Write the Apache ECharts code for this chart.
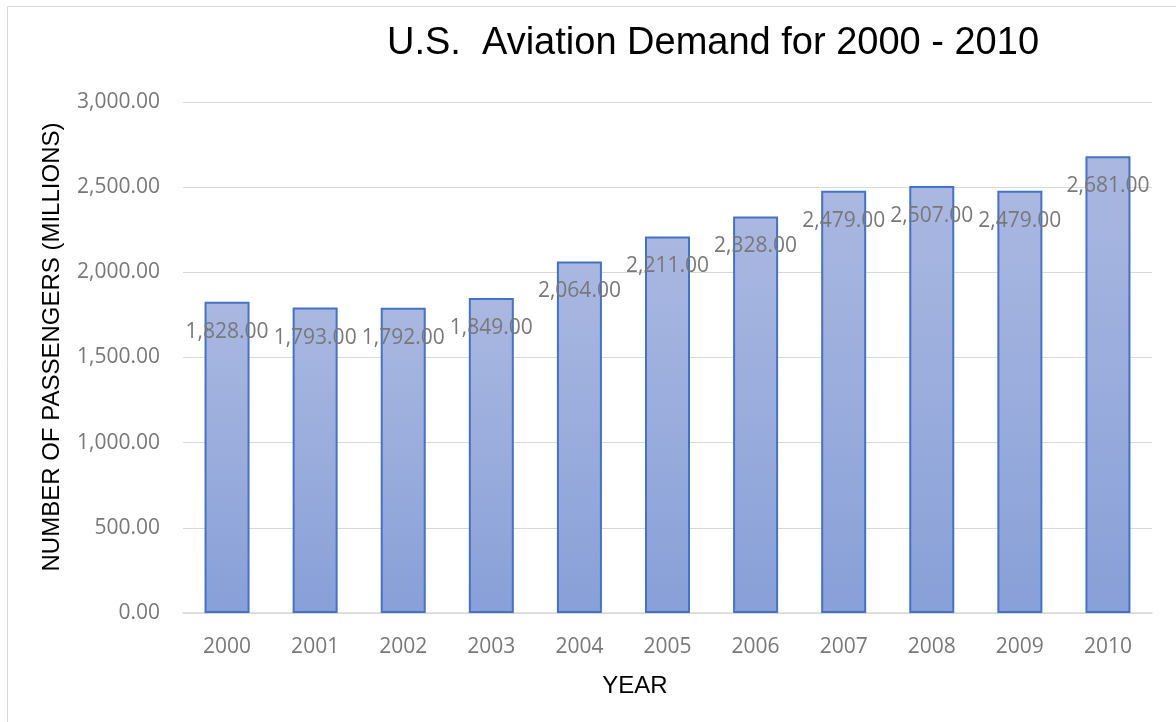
<!DOCTYPE html>
<html>
<head>
<meta charset="utf-8">
<title>U.S. Aviation Demand for 2000 - 2010</title>
<script src="https://cdn.jsdelivr.net/npm/echarts@6/dist/echarts.min.js"></script>
<style>
  html, body { margin: 0; padding: 0; background: #ffffff; }
  #chart { width: 1176px; height: 722px; }
</style>
</head>
<body>
<div id="chart"></div>
<script>
// Passengers per year, in millions
const years = ['2000', '2001', '2002', '2003', '2004', '2005', '2006', '2007', '2008', '2009', '2010'];
const passengers = [1828, 1793, 1792, 1849, 2064, 2211, 2328, 2479, 2507, 2479, 2681];

const titleText = 'U.S.  Aviation Demand for 2000 - 2010';
const yTitle = 'NUMBER OF PASSENGERS (MILLIONS)';
const xTitle = 'YEAR';

// 1234.5 -> "1,234.50"
function fmt(v) {
  const fixed = Number(v).toFixed(2);
  const parts = fixed.split('.');
  parts[0] = parts[0].replace(/\B(?=(\d{3})+(?!\d))/g, ',');
  return parts.join('.');
}

const labelFont = '"Open Sans", "Noto Sans", sans-serif';
const titleFont = '"Liberation Sans", Arial, sans-serif';

const chart = echarts.init(document.getElementById('chart'), null, { renderer: 'canvas' });

chart.setOption({
  backgroundColor: '#ffffff',
  animation: false,
  title: {
    text: titleText,
    left: 382,
    top: 20,
    textStyle: {
      fontFamily: titleFont,
      fontSize: 38,
      fontWeight: 'normal',
      color: '#000000'
    }
  },
  grid: {
    left: 183,
    right: 24,
    top: 102,
    bottom: 109,
    containLabel: false
  },
  xAxis: {
    type: 'category',
    data: years,
    axisLine: { show: true, lineStyle: { color: '#d9d9d9', width: 1.5 } },
    axisTick: { show: false },
    axisLabel: {
      color: '#787878',
      fontFamily: labelFont,
      fontSize: 21,
      lineHeight: 21,
      margin: 24
    }
  },
  yAxis: {
    type: 'value',
    min: 0,
    max: 3000,
    interval: 500,
    axisLine: { show: false },
    axisTick: { show: false },
    splitLine: { lineStyle: { color: '#d9d9d9', width: 1 } },
    axisLabel: {
      color: '#787878',
      fontFamily: labelFont,
      fontSize: 21,
      margin: 23,
      formatter: fmt
    }
  },
  series: [{
    type: 'bar',
    data: passengers,
    barWidth: 45,
    itemStyle: {
      color: new echarts.graphic.LinearGradient(0, 0, 0, 1, [
        { offset: 0, color: '#aab8e1' },
        { offset: 1, color: '#88a0d8' }
      ]),
      borderColor: '#4472c4',
      borderWidth: 2
    },
    label: {
      show: true,
      position: 'insideTop',
      distance: 19,
      color: '#787878',
      fontFamily: labelFont,
      fontSize: 21,
      lineHeight: 22,
      formatter: function (p) { return fmt(p.value); }
    }
  }],
  graphic: [
    {
      type: 'rect',
      silent: true,
      shape: { x: 7.5, y: 6.5, width: 1300, height: 900 },
      style: { fill: 'none', stroke: '#d9d9d9', lineWidth: 1 },
      z: 100
    },
    {
      type: 'text',
      silent: true,
      x: 52,
      y: 347,
      rotation: Math.PI / 2,
      style: {
        text: yTitle,
        fontFamily: titleFont,
        fontSize: 24,
        fill: '#000000',
        align: 'center',
        verticalAlign: 'middle'
      }
    },
    {
      type: 'text',
      silent: true,
      x: 635,
      y: 686,
      style: {
        text: xTitle,
        fontFamily: titleFont,
        fontSize: 24,
        fill: '#000000',
        align: 'center',
        verticalAlign: 'middle'
      }
    }
  ]
});
</script>
</body>
</html>
